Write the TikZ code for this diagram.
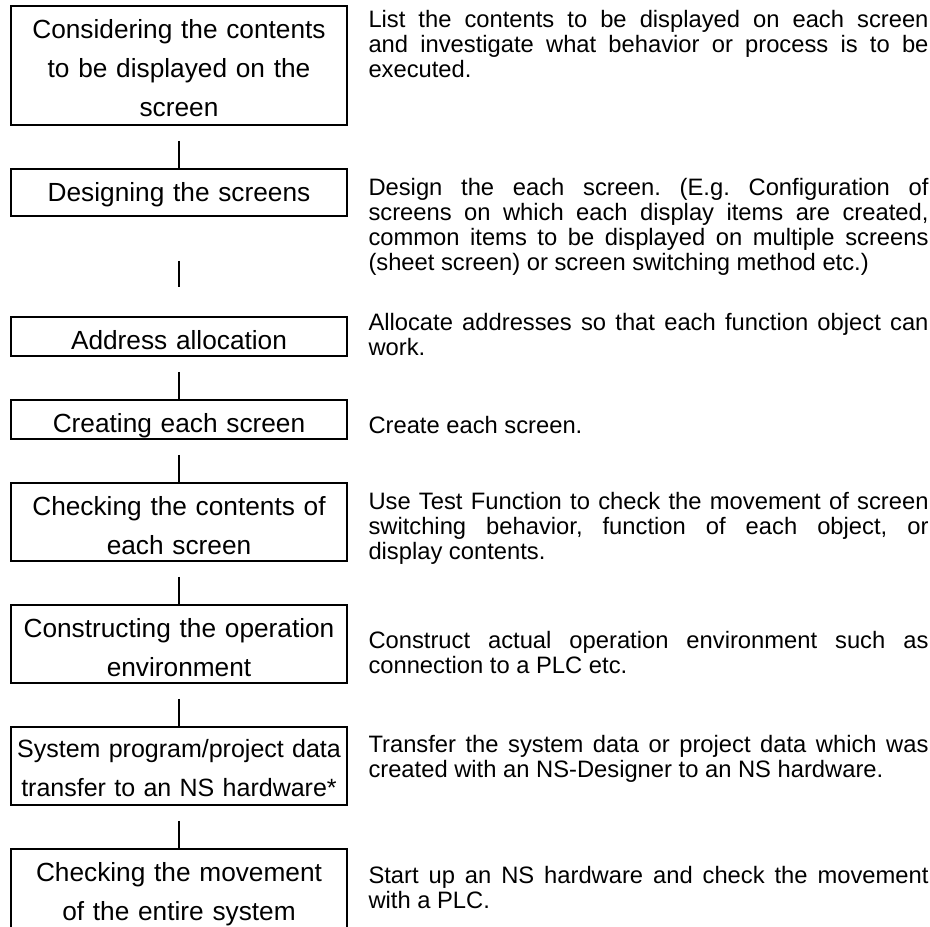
\documentclass[tikz,border=0pt]{standalone}
\usepackage{fontspec}
\setmainfont{Liberation Sans}
\usetikzlibrary{positioning}

\tikzset{
    stepbox/.style={draw, line width=0.8pt, text width=133.4pt, inner xsep=0.5pt, inner ysep=0pt,
        outer sep=0pt, align=center, text height=13.2pt, font=\fontsize{10.5pt}{15.6pt}\selectfont},
    note/.style={anchor=base west, text width=224pt, inner sep=0pt, align=justify,
        font=\fontsize{9.5pt}{10pt}\selectfont\frenchspacing},
    link/.style={line width=0.5pt}
}

\begin{document}
\begin{tikzpicture}[node distance=17.6pt]
        \useasboundingbox (0,0) rectangle (372pt,-370.8pt);

        % steps
        \node[stepbox, text depth=34.4pt, anchor=north] (s1) at (71.6pt,-2.4pt)
            {Considering the contents\\ to be displayed on the\\ screen};
        \node[stepbox, text depth=5.6pt, below=of s1] (s2) {Designing the screens};
        \node[stepbox, text depth=2.4pt, below=40.4pt of s2] (s3) {Address allocation};
        \node[stepbox, text depth=2.4pt, below=of s3] (s4) {Creating each screen};
        \node[stepbox, text depth=18pt, below=of s4] (s5) {Checking the contents of\\ each screen};
        \node[stepbox, text depth=18pt, below=of s5] (s6) {Constructing the operation\\ environment};
        \node[stepbox, text height=12.4pt, text depth=18.8pt, font=\fontsize{10pt}{15.6pt}\selectfont,
            below=of s6] (s7) {System program/project data\\ transfer to an NS hardware*};
        \node[stepbox, text depth=20pt, below=of s7] (s8) {Checking the movement\\ of the entire system};

        \foreach \a/\b in {s1/s2, s3/s4, s4/s5, s5/s6, s6/s7, s7/s8}
            \draw[link] ([yshift=-6.4pt]\a.south) -- (\b.north);
        \draw[link] ([yshift=-18pt]s2.south) -- ([yshift=12pt]s3.north);

        % descriptions
        \node[note] (d1) at ([xshift=8.4pt,yshift=-8.8pt]s1.north east)
            {List the contents to be displayed on each screen\linebreak and investigate what behavior or process is to be\linebreak executed.};
        \node[note] (d2) at ([xshift=8.4pt,yshift=-10.8pt]s2.north east)
            {Design the each screen. (E.g. Configuration of\linebreak screens on which each display items are created,\linebreak common items to be displayed on multiple screens\linebreak (sheet screen) or screen switching method etc.)};
        \node[note] (d3) at ([xshift=8.4pt,yshift=-5.6pt]s3.north east)
            {Allocate addresses so that each function object can\linebreak work.};
        \node[note] (d4) at ([xshift=8.4pt,yshift=-13.6pt]s4.north east)
            {Create each screen.};
        \node[note] (d5) at ([xshift=8.4pt,yshift=-10.8pt]s5.north east)
            {Use Test Function to check the movement of screen\linebreak switching behavior, function of each object, or\linebreak display contents.};
        \node[note] (d6) at ([xshift=8.4pt,yshift=-17.6pt]s6.north east)
            {Construct actual operation environment such as\linebreak connection to a PLC etc.};
        \node[note] (d7) at ([xshift=8.4pt,yshift=-10.4pt]s7.north east)
            {Transfer the system data or project data which was\linebreak created with an NS-Designer to an NS hardware.};
        \node[note] (d8) at ([xshift=8.4pt,yshift=-14pt]s8.north east)
            {Start up an NS hardware and check the movement\linebreak with a PLC.};
\end{tikzpicture}
\end{document}
